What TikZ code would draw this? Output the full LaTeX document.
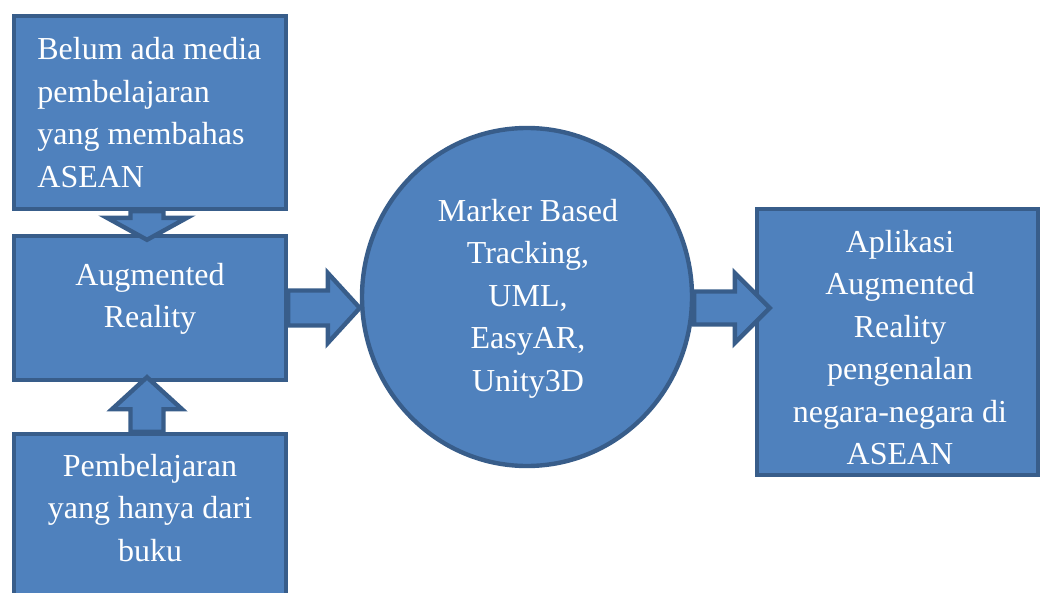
\documentclass[tikz,border=0pt]{standalone}
\usepackage{fontspec}
\setmainfont{Liberation Serif}
\usetikzlibrary{shapes.geometric,calc}
\definecolor{bfill}{HTML}{4F81BD}
\definecolor{bline}{HTML}{385D8A}
\tikzset{
  box/.style={draw=bline, fill=bfill, line width=2.2pt, rectangle, inner sep=0pt},
  oval/.style={draw=bline, fill=bfill, line width=2.2pt, ellipse, inner sep=0pt},
  barrow/.style={draw=bline, fill=bfill, line width=2.2pt, line join=miter},
  txt/.style={text=white, inner sep=0pt, font=\fontsize{16}{21.25}\selectfont},
}
% horizontal block arrow: tail, tip, shaft half, head half, head length
\newcommand\harrow[5]{\draw[barrow] let \p1=(#1), \p2=(#2) in
  (\x1,{\y1+#3}) -- ({\x2-#5},{\y1+#3}) -- ({\x2-#5},{\y1+#4}) -- (\x2,\y1)
  -- ({\x2-#5},{\y1-#4}) -- ({\x2-#5},{\y1-#3}) -- (\x1,{\y1-#3}) -- cycle;}
% vertical block arrow: tail, tip, shaft half, head half, signed offset of head base
\newcommand\varrow[5]{\draw[barrow] let \p1=(#1), \p2=(#2) in
  ({\x1-#3},\y1) -- ({\x1-#3},{\y2+(#5)}) -- ({\x1-#4},{\y2+(#5)}) -- (\x1,\y2)
  -- ({\x1+#4},{\y2+(#5)}) -- ({\x1+#3},{\y2+(#5)}) -- ({\x1+#3},\y1) -- cycle;}
\begin{document}
\begin{tikzpicture}[x=0.5pt,y=-0.5pt]
\useasboundingbox (0,0) rectangle (1042,593);
\clip (0,0) rectangle (1042,593);
% boxes
\node[box, minimum width=136pt, minimum height=96.5pt] (b1) at (150,112.5) {};
\node[box, minimum width=136pt, minimum height=72pt] (b2) at (150,308) {};
\node[box, minimum width=136pt, minimum height=103pt] (b3) at (150,537) {};
\node[box, minimum width=140.5pt, minimum height=133pt] (b4) at (897.5,342) {};
\node[oval, minimum width=165pt, minimum height=169pt] (c) at (527,297) {};
% block arrows
\coordinate (a1t) at (c.west |- b2.east);
\harrow{b2.east}{a1t}{8.75pt}{17.5pt}{16pt}
\coordinate (a2s) at (c.east |- b2.east);
\coordinate (a2t) at ($(b4.west |- b2.east)+(15,0)$);
\harrow{a2s}{a2t}{8.25pt}{17.5pt}{17.5pt}
\coordinate (a3s) at ($(b1.south)+(-3,0)$);
\coordinate (a3t) at ($(b2.north)+(-3,6)$);
\varrow{a3s}{a3t}{8.25pt}{20pt}{11pt}
\coordinate (a4s) at ($(b3.north)+(-3,0)$);
\coordinate (a4t) at ($(b2.south)+(-3,-5)$);
\varrow{a4s}{a4t}{8.25pt}{17.5pt}{-16pt}
% texts
\node[txt, anchor=base west] (t1) at (37,60) {\begin{tabular}[t]{@{}l@{}}Belum ada media\\pembelajaran\\yang membahas\\ASEAN\end{tabular}};
\node[txt, anchor=base] (t2) at (150,285) {\begin{tabular}[t]{@{}c@{}}Augmented\\Reality\end{tabular}};
\node[txt, anchor=base] (t3) at (150,476) {\begin{tabular}[t]{@{}c@{}}Pembelajaran\\yang hanya dari\\buku\end{tabular}};
\node[txt, anchor=base] (t4) at (528,221) {\begin{tabular}[t]{@{}c@{}}Marker Based\\Tracking,\\UML,\\EasyAR,\\Unity3D\end{tabular}};
\node[txt, anchor=base] (t5) at (900,252) {\begin{tabular}[t]{@{}c@{}}Aplikasi\\Augmented\\Reality\\pengenalan\\negara-negara di\\ASEAN\end{tabular}};
\end{tikzpicture}
\end{document}
